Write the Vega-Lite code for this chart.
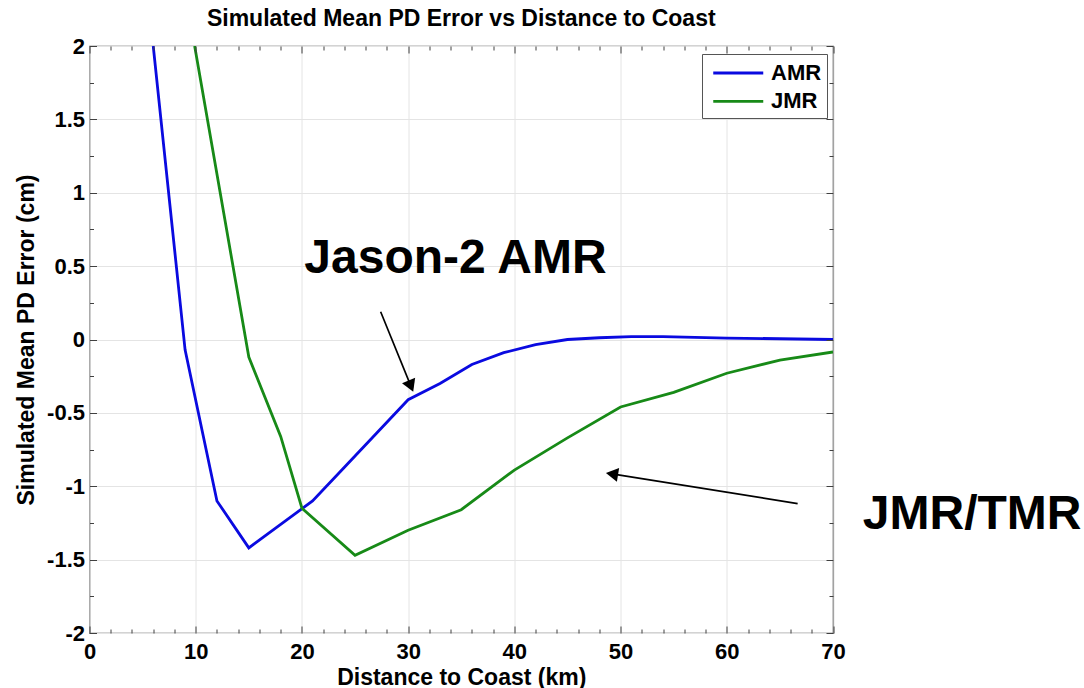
{
  "$schema": "https://vega.github.io/schema/vega-lite/v6.json",
  "autosize": "none",
  "width": 743.5,
  "height": 587,
  "padding": {"left": 89.5, "top": 46, "right": 251, "bottom": 55},
  "background": "white",
  "config": {
    "font": "Liberation Sans",
    "view": {"stroke": "#505050", "strokeWidth": 1.2},
    "axis": {"labelFont": "Liberation Sans", "titleFont": "Liberation Sans", "labelColor": "black", "titleColor": "black", "tickColor": "#404040", "tickWidth": 1}
  },
  "title": {"text": "Simulated Mean PD Error vs Distance to Coast", "fontSize": 23, "fontWeight": "bold", "font": "Liberation Sans", "color": "black", "offset": 4, "anchor": "middle"},
  "data": {"values": [
    {"series": "AMR", "x": 6, "y": 2.0},
    {"series": "AMR", "x": 9, "y": -0.07},
    {"series": "AMR", "x": 12, "y": -1.1},
    {"series": "AMR", "x": 15, "y": -1.42},
    {"series": "AMR", "x": 18, "y": -1.26},
    {"series": "AMR", "x": 21, "y": -1.1},
    {"series": "AMR", "x": 24, "y": -0.87},
    {"series": "AMR", "x": 27, "y": -0.64},
    {"series": "AMR", "x": 30, "y": -0.41},
    {"series": "AMR", "x": 33, "y": -0.3},
    {"series": "AMR", "x": 36, "y": -0.17},
    {"series": "AMR", "x": 39, "y": -0.09},
    {"series": "AMR", "x": 42, "y": -0.035},
    {"series": "AMR", "x": 45, "y": 0.0},
    {"series": "AMR", "x": 48, "y": 0.012},
    {"series": "AMR", "x": 51, "y": 0.02},
    {"series": "AMR", "x": 54, "y": 0.02},
    {"series": "AMR", "x": 57, "y": 0.015},
    {"series": "AMR", "x": 60, "y": 0.01},
    {"series": "AMR", "x": 65, "y": 0.005},
    {"series": "AMR", "x": 70, "y": 0.0},
    {"series": "JMR", "x": 9.9, "y": 2.0},
    {"series": "JMR", "x": 15, "y": -0.12},
    {"series": "JMR", "x": 18, "y": -0.66},
    {"series": "JMR", "x": 20, "y": -1.15},
    {"series": "JMR", "x": 25, "y": -1.47},
    {"series": "JMR", "x": 30, "y": -1.3},
    {"series": "JMR", "x": 35, "y": -1.16},
    {"series": "JMR", "x": 40, "y": -0.89},
    {"series": "JMR", "x": 45, "y": -0.67},
    {"series": "JMR", "x": 50, "y": -0.46},
    {"series": "JMR", "x": 55, "y": -0.36},
    {"series": "JMR", "x": 60, "y": -0.23},
    {"series": "JMR", "x": 65, "y": -0.14},
    {"series": "JMR", "x": 70, "y": -0.085}
  ]},
  "resolve": {"axis": {"x": "independent", "y": "independent"}},
  "layer": [
    {
      "mark": {"type": "line", "strokeWidth": 2.8, "clip": true},
      "encoding": {
        "x": {"field": "x", "type": "quantitative", "scale": {"domain": [0, 70], "nice": false, "zero": false},
          "axis": {"orient": "bottom", "values": [0, 10, 20, 30, 40, 50, 60, 70], "grid": true, "gridColor": "#e4e4e4", "gridWidth": 1, "ticks": false, "domain": false,
            "labelExpr": "'' + datum.value", "labelFontSize": 22, "labelFontWeight": "bold", "labelPadding": 8, "labelFlush": false,
            "title": "Distance to Coast (km)", "titleFontSize": 23, "titleFontWeight": "bold", "titlePadding": 4}},
        "y": {"field": "y", "type": "quantitative", "scale": {"domain": [-2, 2], "nice": false, "zero": false},
          "axis": {"orient": "left", "values": [-2, -1.5, -1, -0.5, 0, 0.5, 1, 1.5, 2], "grid": true, "gridColor": "#e4e4e4", "gridWidth": 1, "ticks": false, "domain": false,
            "labelExpr": "'' + datum.value", "labelFontSize": 22, "labelFontWeight": "bold", "labelPadding": 5, "labelFlush": false,
            "title": "Simulated Mean PD Error (cm)", "titleFontSize": 23, "titleFontWeight": "bold", "titlePadding": 8}},
        "color": {"field": "series", "type": "nominal",
          "scale": {"domain": ["AMR", "JMR"], "range": ["#0a0ae0", "#178a17"]},
          "legend": {"title": null, "orient": "none", "legendX": 612.5, "legendY": 8, "strokeColor": "#555555", "fillColor": "white", "padding": 5,
            "symbolType": "M-0.62,0H3.38", "symbolSize": 625, "symbolStrokeWidth": 2.8, "labelFontSize": 22, "labelFontWeight": "bold", "labelFont": "Liberation Sans", "labelColor": "black", "labelOffset": 36, "rowPadding": 3.4}}
      }
    },
    {
      "mark": {"type": "point", "opacity": 0},
      "encoding": {
        "x": {"field": "x", "type": "quantitative", "axis": {"orient": "bottom", "values": [0, 10, 20, 30, 40, 50, 60, 70], "labels": false, "grid": false, "domain": false, "tickSize": -7, "title": null, "zindex": 1}},
        "y": {"field": "y", "type": "quantitative", "axis": {"orient": "left", "values": [-2, -1.5, -1, -0.5, 0, 0.5, 1, 1.5, 2], "labels": false, "grid": false, "domain": false, "tickSize": -7, "title": null, "zindex": 1}}
      }
    },
    {
      "mark": {"type": "point", "opacity": 0},
      "encoding": {
        "x": {"field": "x", "type": "quantitative", "axis": {"orient": "bottom", "values": [2, 4, 6, 8, 12, 14, 16, 18, 22, 24, 26, 28, 32, 34, 36, 38, 42, 44, 46, 48, 52, 54, 56, 58, 62, 64, 66, 68], "labels": false, "grid": false, "domain": false, "tickSize": -4, "title": null, "zindex": 1}},
        "y": {"field": "y", "type": "quantitative", "axis": {"orient": "left", "values": [-1.75, -1.25, -0.75, -0.25, 0.25, 0.75, 1.25, 1.75], "labels": false, "grid": false, "domain": false, "tickSize": -4, "title": null, "zindex": 1}}
      }
    },
    {
      "mark": {"type": "point", "opacity": 0},
      "encoding": {
        "x": {"field": "x", "type": "quantitative", "axis": {"orient": "top", "values": [0, 10, 20, 30, 40, 50, 60, 70], "labels": false, "grid": false, "domain": false, "tickSize": -7, "title": null, "zindex": 1}},
        "y": {"field": "y", "type": "quantitative", "axis": {"orient": "right", "values": [-2, -1.5, -1, -0.5, 0, 0.5, 1, 1.5, 2], "labels": false, "grid": false, "domain": false, "tickSize": -7, "title": null, "zindex": 1}}
      }
    },
    {
      "mark": {"type": "point", "opacity": 0},
      "encoding": {
        "x": {"field": "x", "type": "quantitative", "axis": {"orient": "top", "values": [2, 4, 6, 8, 12, 14, 16, 18, 22, 24, 26, 28, 32, 34, 36, 38, 42, 44, 46, 48, 52, 54, 56, 58, 62, 64, 66, 68], "labels": false, "grid": false, "domain": false, "tickSize": -4, "title": null, "zindex": 1}},
        "y": {"field": "y", "type": "quantitative", "axis": {"orient": "right", "values": [-1.75, -1.25, -0.75, -0.25, 0.25, 0.75, 1.25, 1.75], "labels": false, "grid": false, "domain": false, "tickSize": -4, "title": null, "zindex": 1}}
      }
    },
    {
      "data": {"values": [
        {"label": "Jason-2 AMR", "x": 27.41, "y": 0.189, "x2": 30.26, "y2": -0.318},
        {"label": "JMR/TMR", "x": 66.67, "y": -1.118, "x2": 49.19, "y2": -0.916}
      ]},
      "mark": {"type": "rule", "color": "black", "strokeWidth": 1.7, "clip": false},
      "encoding": {
        "x": {"field": "x", "type": "quantitative", "axis": null},
        "y": {"field": "y", "type": "quantitative", "axis": null},
        "x2": {"field": "x2"},
        "y2": {"field": "y2"}
      }
    },
    {
      "data": {"values": [{"label": "Jason-2 AMR", "x": 30.26, "y": -0.318}]},
      "mark": {"type": "point", "shape": "triangle-up", "size": 200, "angle": 157.8, "filled": true, "color": "black", "opacity": 1, "clip": false},
      "encoding": {
        "x": {"field": "x", "type": "quantitative", "axis": null},
        "y": {"field": "y", "type": "quantitative", "axis": null}
      }
    },
    {
      "data": {"values": [{"label": "JMR/TMR", "x": 49.19, "y": -0.916}]},
      "mark": {"type": "point", "shape": "triangle-up", "size": 200, "angle": 279.1, "filled": true, "color": "black", "opacity": 1, "clip": false},
      "encoding": {
        "x": {"field": "x", "type": "quantitative", "axis": null},
        "y": {"field": "y", "type": "quantitative", "axis": null}
      }
    },
    {
      "data": {"values": [
        {"label": "Jason-2 AMR", "x": 34.46, "y": 0.45},
        {"label": "JMR/TMR", "x": 83.1, "y": -1.288}
      ]},
      "mark": {"type": "text", "fontSize": 48, "fontWeight": "bold", "font": "Liberation Sans", "color": "black", "align": "center", "baseline": "alphabetic", "clip": false},
      "encoding": {
        "x": {"field": "x", "type": "quantitative", "axis": null},
        "y": {"field": "y", "type": "quantitative", "axis": null},
        "text": {"field": "label"}
      }
    }
  ]
}
